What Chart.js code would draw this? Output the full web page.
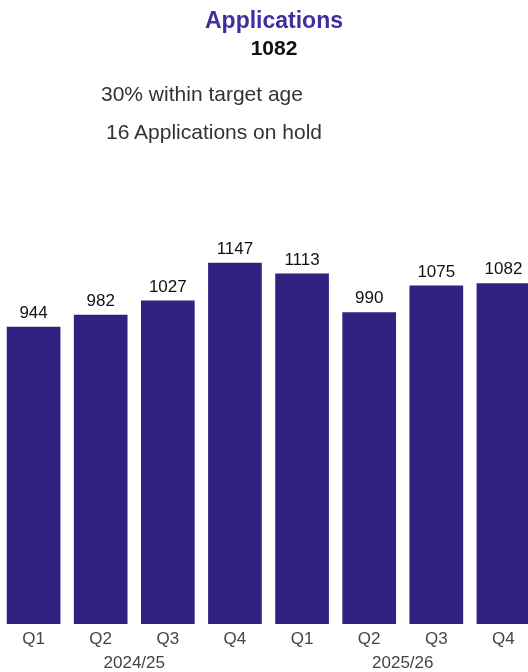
<!DOCTYPE html>
<html>
<head>
<meta charset="utf-8">
<script src="https://cdn.jsdelivr.net/npm/chart.js@4"></script>
<style>
  html, body { margin: 0; padding: 0; background: #fff; }
  body { width: 528px; height: 672px; overflow: hidden; position: relative; font-family: 'Liberation Sans', Arial, sans-serif; }
  #wrap { position: absolute; left: 0; top: 0; width: 537px; height: 672px; }
  .txt { position: absolute; white-space: nowrap; line-height: 1; }
  #title { left: 0; width: 548px; text-align: center; top: 9px; font-size: 23px; font-weight: bold; color: #3f2e9c; }
  #total { left: 0; width: 548px; text-align: center; top: 37px; font-size: 21px; font-weight: bold; color: #111; }
  #target { left: 101px; top: 83px; font-size: 21px; color: #333; }
  #hold { left: 106px; top: 121px; font-size: 21px; color: #333; }
</style>
</head>
<body>
<div id="wrap"><canvas id="chart" width="537" height="672"></canvas></div>
<div class="txt" id="title">Applications</div>
<div class="txt" id="total">1082</div>
<div class="txt" id="target">30% within target age</div>
<div class="txt" id="hold">16 Applications on hold</div>
<script>
const quarters = ['Q1', 'Q2', 'Q3', 'Q4', 'Q1', 'Q2', 'Q3', 'Q4'];
const years = ['2024/25', '2025/26'];
const applications = [944, 982, 1027, 1147, 1113, 990, 1075, 1082];

const barColor = '#322180';
const fontFamily = "'Liberation Sans', Arial, sans-serif";

// value above each bar
const barLabels = {
    id: 'barLabels',
    afterDatasetsDraw(chart) {
        const ctx = chart.ctx;
        const meta = chart.getDatasetMeta(0);
        ctx.save();
        ctx.font = '17px ' + fontFamily;
        ctx.fillStyle = '#111';
        ctx.textAlign = 'center';
        ctx.textBaseline = 'bottom';
        meta.data.forEach((bar, i) => {
            ctx.fillText(String(applications[i]), bar.x, bar.y - 5);
        });
        ctx.restore();
    }
};

window.onload = function() {
    const ctx = document.getElementById('chart').getContext('2d');
    new Chart(ctx, {
        type: 'bar',
        data: {
            labels: quarters,
            datasets: [{
                data: applications,
                backgroundColor: barColor,
                borderWidth: 0,
                categoryPercentage: 1,
                barPercentage: 0.8
            }]
        },
        options: {
            responsive: false,
            animation: false,
            layout: { padding: { top: 183, left: 0, right: 0, bottom: 0 } },
            plugins: {
                legend: { display: false },
                tooltip: { enabled: false }
            },
            scales: {
                x: {
                    grid: { display: false, drawTicks: false },
                    border: { display: false },
                    ticks: { color: '#444', padding: 7, font: { size: 17, family: fontFamily, lineHeight: 1 } }
                },
                x2: {
                    type: 'category',
                    labels: years,
                    position: 'bottom',
                    offset: true,
                    grid: { display: false, drawTicks: false },
                    border: { display: false },
                    ticks: { color: '#444', padding: 0, font: { size: 17, family: fontFamily, lineHeight: 1 } }
                },
                y: {
                    display: false,
                    min: 0,
                    max: 1400
                }
            }
        },
        plugins: [barLabels]
    });
};
</script>
</body>
</html>
